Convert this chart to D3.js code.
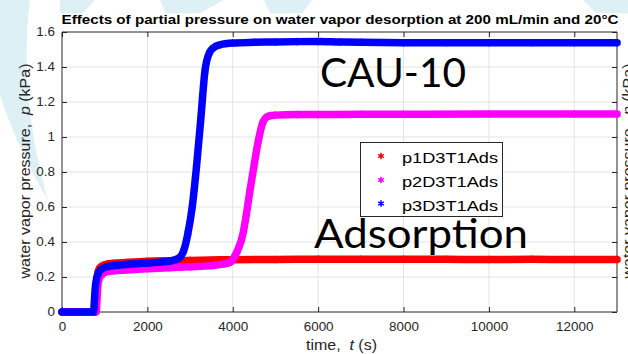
<!DOCTYPE html>
<html><head><meta charset="utf-8">
<script src="https://cdn.jsdelivr.net/npm/d3@7"></script>
<style>
html,body{margin:0;padding:0;background:#fff;}
svg{display:block;font-family:"Liberation Sans",Arial,sans-serif;}
text{white-space:pre;}
</style></head>
<body><svg id="c" width="628" height="354"></svg>
<script>
// ---------- data ----------
const title = "Effects of partial pressure on water vapor desorption at 200 mL/min and 20°C";
const xTicks = [0, 2000, 4000, 6000, 8000, 10000, 12000];
const yTicks = [0, 0.2, 0.4, 0.6, 0.8, 1, 1.2, 1.4, 1.6];
const seriesNames = ["p1D3T1Ads", "p2D3T1Ads", "p3D3T1Ads"];
const seriesColors = ["#ff0000", "#ff00ff", "#0000ff"];

const p1Time = [0, 300, 600, 770, 790, 810, 840, 880, 950, 1050, 1200, 1500, 2000, 2500, 3000, 3500, 4000, 5000, 6000, 7000, 8000, 9000, 10000, 11000, 12000, 13000];
const p1Val  = [0, 0, 0, 0, 0.08, 0.17, 0.225, 0.25, 0.265, 0.273, 0.278, 0.283, 0.29, 0.293, 0.295, 0.297, 0.299, 0.300, 0.302, 0.301, 0.301, 0.301, 0.300, 0.301, 0.300, 0.300];

const p2Time = [0, 300, 600, 800, 820, 840, 870, 920, 1000, 1200, 1500, 2000, 2500, 3000, 3500, 3800, 3950, 4000, 4050, 4100, 4150, 4200, 4250, 4300, 4400, 4500, 4600, 4700, 4800, 4900, 5000, 5500, 6000, 7000, 8000, 10000, 12000, 13000];
const p2Val  = [0, 0, 0, 0, 0.07, 0.15, 0.19, 0.21, 0.225, 0.235, 0.24, 0.247, 0.253, 0.258, 0.265, 0.275, 0.285, 0.30, 0.32, 0.345, 0.375, 0.41, 0.46, 0.53, 0.69, 0.84, 0.98, 1.08, 1.115, 1.123, 1.125, 1.128, 1.128, 1.13, 1.13, 1.131, 1.131, 1.131];

const p3Time = [0, 300, 600, 740, 760, 780, 810, 850, 900, 1000, 1200, 1500, 2000, 2300, 2600, 2750, 2850, 2950, 3050, 3150, 3250, 3350, 3450, 3550, 3700, 4000, 4500, 5000, 5500, 6000, 6500, 7000, 8000, 9000, 10000, 11000, 12000, 13000];
const p3Val  = [0, 0, 0, 0, 0.07, 0.14, 0.19, 0.22, 0.24, 0.255, 0.265, 0.272, 0.28, 0.285, 0.295, 0.31, 0.35, 0.45, 0.60, 0.83, 1.10, 1.38, 1.48, 1.51, 1.527, 1.537, 1.541, 1.543, 1.545, 1.546, 1.543, 1.541, 1.539, 1.539, 1.539, 1.539, 1.539, 1.539];

const seriesTime = [p1Time, p2Time, p3Time];
const seriesVal = [p1Val, p2Val, p3Val];

// ---------- layout ----------
const L = 62, R = 617, T = 32, B = 312;
const svg = d3.select("#c");
const x = d3.scaleLinear().domain([0, 13000]).range([L, R]);
const y = d3.scaleLinear().domain([0, 1.6]).range([B, T]);
const axisCol = "#262626", gridCol = "#e3e3e3", wm = "#dcf0f6";

// watermark background
const wmPaths = [
  "M60,0 L95,0 L83,13 L60,13 Z",
  "M160,0 L224,0 L200,13 L166,13 Z",
  "M264,0 L312,0 L302,13 L270,13 Z",
  "M583,0 L628,0 L628,13 L596,13 Z",
  "M0,0 L30,0 C 22,60 28,130 48,200 C 24,160 8,120 0,95 Z"
];
svg.append("g").selectAll("path").data(wmPaths).join("path").attr("d", d => d).attr("fill", wm);

// plot background
svg.append("rect").attr("x", L).attr("y", T).attr("width", R - L).attr("height", B - T).attr("fill", "#fff");

// grid
const grid = svg.append("g");
grid.selectAll(".gx").data(xTicks.filter(v => v > 0)).join("line")
  .attr("x1", d => x(d)).attr("x2", d => x(d)).attr("y1", T).attr("y2", B)
  .attr("stroke", gridCol).attr("stroke-width", 1);
grid.selectAll(".gy").data(yTicks.filter(v => v > 0 && v < 1.6)).join("line")
  .attr("y1", d => y(d)).attr("y2", d => y(d)).attr("x1", L).attr("x2", R)
  .attr("stroke", gridCol).attr("stroke-width", 1);

// axes via d3 axis (inward ticks)
const tickLen = 5;
const axB = svg.append("g").attr("transform", `translate(0,${B})`)
  .call(d3.axisBottom(x).tickValues(xTicks).tickSize(-tickLen).tickPadding(10).tickFormat(d3.format("d")));
const axT = svg.append("g").attr("transform", `translate(0,${T})`)
  .call(d3.axisTop(x).tickValues(xTicks).tickSize(-tickLen).tickFormat(""));
const axL = svg.append("g").attr("transform", `translate(${L},0)`)
  .call(d3.axisLeft(y).tickValues(yTicks).tickSize(-tickLen).tickPadding(7).tickFormat(d => String(+d.toFixed(1))));
const axR = svg.append("g").attr("transform", `translate(${R},0)`)
  .call(d3.axisRight(y).tickValues(yTicks).tickSize(-tickLen).tickFormat(""));
[axB, axT, axL, axR].forEach(a => {
  a.select(".domain").attr("stroke", axisCol).attr("stroke-width", 1);
  a.selectAll(".tick line").attr("stroke", axisCol);
  a.selectAll(".tick text").attr("fill", axisCol).attr("font-size", 12)
    .attr("font-family", "'Liberation Sans', Arial, sans-serif");
});
axB.selectAll(".domain").attr("d", `M${L},0H${R}`);
axT.selectAll(".domain").attr("d", `M${L},0H${R}`);
axL.selectAll(".domain").attr("d", `M0,${B}V${T}`);
axR.selectAll(".domain").attr("d", `M0,${B}V${T}`);

// series (dense asterisk markers approximated by thick line + markers)
const plot = svg.append("g");
seriesNames.forEach((name, i) => {
  const pts = seriesTime[i].map((t, k) => [t, seriesVal[i][k]]);
  const line = d3.line().x(d => x(d[0])).y(d => y(d[1])).curve(d3.curveMonotoneX);
  plot.append("path").datum(pts).attr("d", line).attr("fill", "none")
    .attr("stroke", seriesColors[i]).attr("stroke-width", 7.5)
    .attr("stroke-linejoin", "round").attr("stroke-linecap", "round");
  plot.append("g").selectAll("path").data(pts).join("path")
    .attr("transform", d => `translate(${x(d[0])},${y(d[1])})`)
    .attr("d", d3.symbol(d3.symbolAsterisk || d3.symbolCross, 40))
    .attr("fill", "none").attr("stroke", seriesColors[i]).attr("stroke-width", 1.2);
});

// title
svg.append("text").attr("x", 340).attr("y", 24).attr("text-anchor", "middle")
  .attr("font-weight", "bold").attr("font-size", 12.5).attr("fill", "#000")
  .attr("textLength", 557).attr("lengthAdjust", "spacingAndGlyphs").text(title);

// axis labels
const xl = svg.append("text").attr("x", 341.5).attr("y", 350).attr("text-anchor", "middle")
  .attr("font-size", 14).attr("fill", axisCol).attr("textLength", 71).attr("lengthAdjust", "spacingAndGlyphs");
xl.append("tspan").text("time,  ");
xl.append("tspan").attr("font-style", "italic").text("t");
xl.append("tspan").text(" (s)");

function yLabel(xpos) {
  const t = svg.append("text").attr("transform", `translate(${xpos},171) rotate(-90)`)
    .attr("text-anchor", "middle").attr("font-size", 14).attr("fill", axisCol)
    .attr("textLength", 215).attr("lengthAdjust", "spacingAndGlyphs");
  t.append("tspan").text("water vapor pressure,  ");
  t.append("tspan").attr("font-style", "italic").text("p");
  t.append("tspan").text(" (kPa)");
  return t;
}
yLabel(30);
yLabel(633);

// annotations
svg.append("text").attr("x", 320).attr("y", 87).attr("font-family", "Lato, 'Open Sans', sans-serif")
  .attr("font-size", 41).attr("fill", "#000").attr("textLength", 146).attr("lengthAdjust", "spacingAndGlyphs").text("CAU-10");
svg.append("text").attr("x", 314).attr("y", 248).attr("font-family", "Lato, 'Open Sans', sans-serif")
  .attr("font-size", 41).attr("fill", "#000").attr("textLength", 214).attr("lengthAdjust", "spacingAndGlyphs").text("Adsorption");

// legend
const lg = svg.append("g");
lg.append("rect").attr("x", 360.5).attr("y", 142.5).attr("width", 142).attr("height", 74)
  .attr("fill", "#fff").attr("stroke", "#262626").attr("stroke-width", 1);
const rowY = [156, 180, 203.5];
seriesNames.forEach((name, i) => {
  lg.append("path").attr("transform", `translate(381,${rowY[i]})`)
    .attr("d", d3.symbol(d3.symbolAsterisk || d3.symbolCross, 30))
    .attr("fill", "none").attr("stroke", seriesColors[i]).attr("stroke-width", 1.5);
  lg.append("text").attr("x", 402).attr("y", rowY[i] + 7).attr("font-size", 15).attr("fill", "#000")
    .attr("textLength", 96).attr("lengthAdjust", "spacingAndGlyphs").text(name);
});

// slight horizontal stretch for tick labels to match the reference
svg.selectAll(".tick text").each(function() {
  const w = this.getComputedTextLength();
  if (w > 0) d3.select(this).attr("textLength", w * 1.12).attr("lengthAdjust", "spacingAndGlyphs");
});
</script></body></html>
